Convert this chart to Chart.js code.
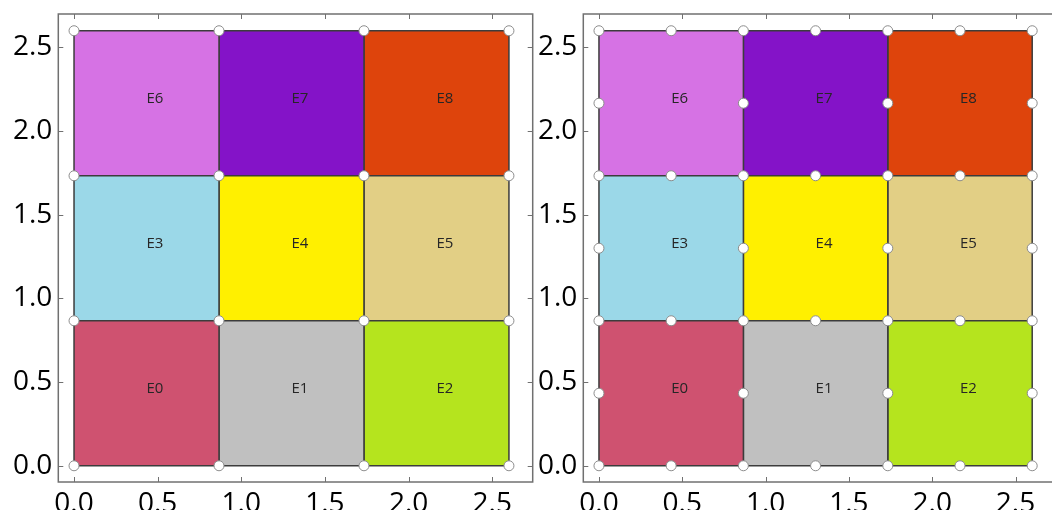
<!DOCTYPE html>
<html>
<head>
<meta charset="utf-8">
<script src="https://cdn.jsdelivr.net/npm/chart.js@4/dist/chart.umd.min.js"></script>
<style>
    html, body { margin: 0; padding: 0; background: #fff; }
    body { width: 1052px; height: 510px; overflow: hidden; position: relative; }
    .panel { position: absolute; top: 0; }
    canvas { display: block; }
</style>
</head>
<body>
<div class="panel" style="left:0px"><canvas id="leftChart" width="540" height="530"></canvas></div>
<div class="panel" style="left:525px"><canvas id="rightChart" width="540" height="530"></canvas></div>
<script>
// 网格边界与单元
const cellEdges = [0, 0.8667, 1.7333, 2.6];
const cellCenters = [0.4333, 1.3, 2.1667];
const cellNames = ['E0', 'E1', 'E2', 'E3', 'E4', 'E5', 'E6', 'E7', 'E8'];
const cellColors = ['#cf5270', '#c0c0c0', '#b5e41e', '#9bd8e8', '#fff000', '#e2cf85', '#d672e4', '#8413c8', '#de440c'];

// 节点坐标
const leftNodeCoords = [0, 0.8667, 1.7333, 2.6];
const rightNodeCoords = [0, 0.4333, 0.8667, 1.3, 1.7333, 2.1667, 2.6];

// 刻度
const tickValues = [0, 0.5, 1.0, 1.5, 2.0, 2.5];

// 左图: 只有角点; 右图: 角点 + 边中点
const leftNodes = [];
leftNodeCoords.forEach(y => leftNodeCoords.forEach(x => leftNodes.push({x: x, y: y})));
const rightNodes = [];
rightNodeCoords.forEach((y, j) => rightNodeCoords.forEach((x, i) => {
    if (i % 2 === 1 && j % 2 === 1) return;
    rightNodes.push({x: x, y: y});
}));

function cellDatasets() {
    return cellNames.map((name, k) => {
        const col = k % 3, row = Math.floor(k / 3);
        const x0 = cellEdges[col], x1 = cellEdges[col + 1];
        const y0 = cellEdges[row], y1 = cellEdges[row + 1];
        return {
            label: name,
            data: [{x: x0, y: y0}, {x: x1, y: y0}, {x: x1, y: y1}, {x: x0, y: y1}, {x: x0, y: y0}],
            showLine: true,
            fill: 'shape',
            backgroundColor: cellColors[k],
            borderColor: '#3c3c3c',
            borderWidth: 1.5,
            pointRadius: 0,
            tension: 0,
            order: 1
        };
    });
}

// 框线和向内的刻度
const framePlugin = {
    id: 'frame',
    afterDatasetsDraw(chart) {
        const {ctx, chartArea: a, scales} = chart;
        ctx.save();
        ctx.strokeStyle = '#707070';
        ctx.lineWidth = 1.5;
        ctx.strokeRect(a.left, a.top, a.right - a.left, a.bottom - a.top);
        ctx.lineWidth = 1;
        ctx.beginPath();
        tickValues.forEach(v => {
            const px = Math.round(scales.x.getPixelForValue(v)) + 0.5;
            ctx.moveTo(px, a.bottom); ctx.lineTo(px, a.bottom - 5);
            ctx.moveTo(px, a.top); ctx.lineTo(px, a.top + 5);
            const py = Math.round(scales.y.getPixelForValue(v)) + 0.5;
            ctx.moveTo(a.left, py); ctx.lineTo(a.left + 5, py);
            ctx.moveTo(a.right, py); ctx.lineTo(a.right - 5, py);
        });
        ctx.stroke();
        ctx.restore();
    }
};

// 单元名称
const labelPlugin = {
    id: 'cellLabels',
    afterDatasetsDraw(chart) {
        const {ctx, scales} = chart;
        ctx.save();
        ctx.font = '15px "Open Sans"';
        ctx.fillStyle = '#262626';
        ctx.textAlign = 'left';
        ctx.textBaseline = 'alphabetic';
        cellNames.forEach((name, k) => {
            const cx = cellCenters[k % 3], cy = cellCenters[Math.floor(k / 3)];
            ctx.fillText(name, scales.x.getPixelForValue(cx), scales.y.getPixelForValue(cy));
        });
        ctx.restore();
    }
};

function makeChart(id, nodes, xMax) {
    const tickFont = {family: '"Open Sans"', size: 28};
    new Chart(document.getElementById(id), {
        type: 'scatter',
        data: {
            datasets: [{
                label: 'nodes',
                data: nodes,
                pointRadius: 5,
                pointBackgroundColor: '#ffffff',
                pointBorderColor: '#8c8c8c',
                pointBorderWidth: 1,
                showLine: false,
                order: 0
            }].concat(cellDatasets())
        },
        options: {
            responsive: false,
            animation: false,
            events: [],
            layout: {padding: {left: 0, top: 14, right: 7.3, bottom: 0}},
            plugins: {
                legend: {display: false},
                tooltip: {enabled: false}
            },
            scales: {
                x: {
                    type: 'linear',
                    min: -0.094,
                    max: xMax,
                    border: {display: false},
                    grid: {display: false, drawTicks: false},
                    afterBuildTicks: s => { s.ticks = tickValues.map(v => ({value: v})); },
                    afterFit: s => { s.height = 48; s.paddingLeft = 0; s.paddingRight = 0; },
                    ticks: {
                        color: '#000',
                        font: tickFont,
                        padding: 5,
                        maxRotation: 0,
                        autoSkip: false,
                        callback: v => Number(v).toFixed(1)
                    }
                },
                y: {
                    type: 'linear',
                    min: -0.097,
                    max: 2.70,
                    border: {display: false},
                    grid: {display: false, drawTicks: false},
                    afterBuildTicks: s => { s.ticks = tickValues.map(v => ({value: v})); },
                    afterFit: s => { s.width = 58.3; s.paddingTop = 0; s.paddingBottom = 0; },
                    ticks: {
                        color: '#000',
                        font: tickFont,
                        padding: 6,
                        autoSkip: false,
                        callback: v => Number(v).toFixed(1)
                    }
                }
            }
        },
        plugins: [framePlugin, labelPlugin]
    });
}

makeChart('leftChart', leftNodes, 2.742);
makeChart('rightChart', rightNodes, 2.753);
</script>
</body>
</html>
